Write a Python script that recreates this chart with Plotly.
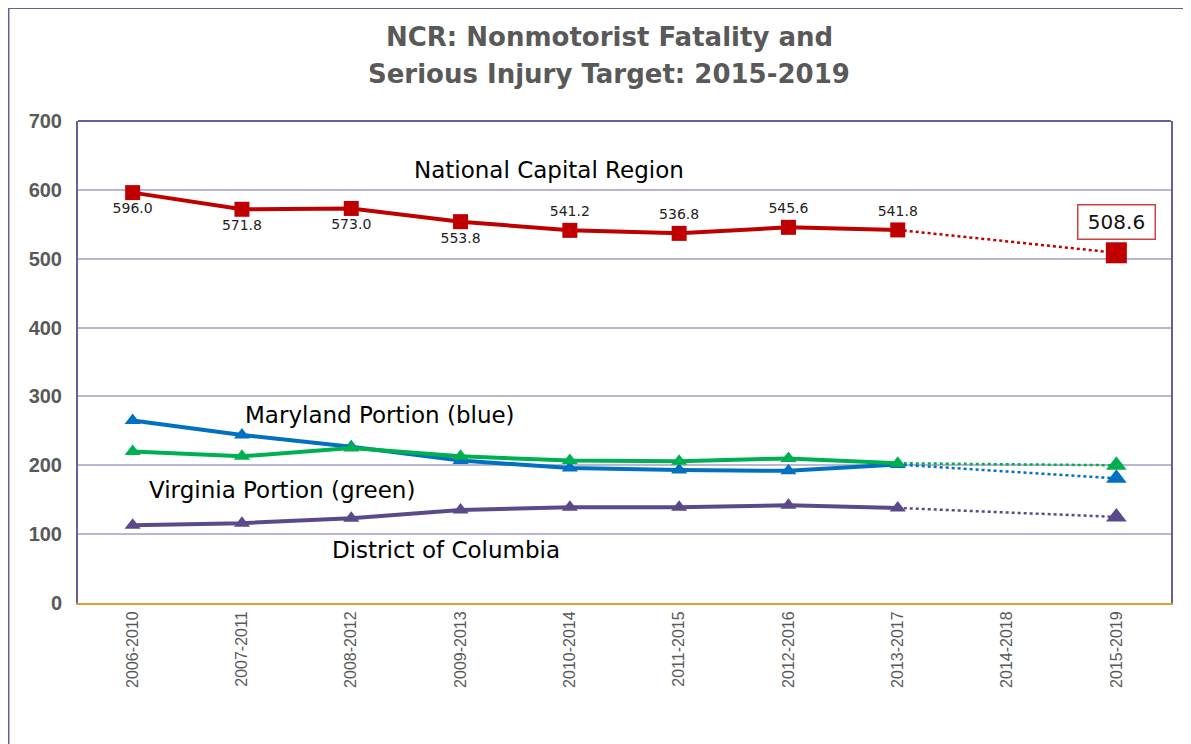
import plotly.graph_objects as go

periods = ["2006-2010", "2007-2011", "2008-2012", "2009-2013", "2010-2014",
           "2011-2015", "2012-2016", "2013-2017", "2014-2018", "2015-2019"]
ncr = [596.0, 571.8, 573.0, 553.8, 541.2, 536.8, 545.6, 541.8, None, None]
ncr_target = 508.6
maryland = [265, 244, 227, 207, 196, 193, 192, 201, None, None]
maryland_target = 181
virginia = [220, 213, 225, 213, 207, 206, 210, 203, None, None]
virginia_target = 200
dc = [113, 116, 123, 135, 139, 139, 142, 138, None, None]
dc_target = 125

ncr_text_pos = ["bottom center"] * 4 + ["top center"] * 4 + ["top center"] * 2

RED = "#C00000"
BLUE = "#0070C0"
GREEN = "#00B050"
PURPLE = "#5B4A8A"
FRAME = "#6E5C9A"
GRID = "#BDB3D4"
GOLD = "#D4A52A"
GREY = "#595959"

fig = go.Figure()

def proj(series, target, color, symbol, msize):
    fig.add_trace(go.Scatter(
        x=[periods[7], periods[9]], y=[series[7], target], mode="lines",
        line=dict(color=color, width=2.5, dash="dot"), hoverinfo="skip", showlegend=False))
    fig.add_trace(go.Scatter(
        x=[periods[9]], y=[target], mode="markers",
        marker=dict(symbol=symbol, size=msize, color=color), showlegend=False, cliponaxis=False))

def main(series, color, symbol, size, text=None):
    fig.add_trace(go.Scatter(
        x=periods, y=series, mode="lines+markers" + ("+text" if text else ""),
        line=dict(color=color, width=4),
        marker=dict(symbol=symbol, size=size, color=color),
        text=text, textposition=ncr_text_pos if text else None,
        textfont=dict(family="DejaVu Sans, Verdana", size=14, color="#222222"),
        showlegend=False, cliponaxis=False))

proj(dc, dc_target, PURPLE, "triangle-up", 18)
proj(virginia, virginia_target, GREEN, "triangle-up", 18)
proj(maryland, maryland_target, BLUE, "triangle-up", 18)
proj(ncr, ncr_target, RED, "square", 21)
main(dc, PURPLE, "triangle-up", 14)
main(maryland, BLUE, "triangle-up", 14)
main(virginia, GREEN, "triangle-up", 14)
main(ncr, RED, "square", 15, text=[f"{v:.1f}" if v is not None else "" for v in ncr])

label_font = dict(family="DejaVu Sans, Verdana", size=23, color="#000000")
title_font = dict(family="DejaVu Sans, Verdana", size=26, color=GREY)
annotations = [
    dict(x=3.81, y=629, text="National Capital Region", showarrow=False, font=label_font),
    dict(x=2.26, y=273, text="Maryland Portion (blue)", showarrow=False, font=label_font),
    dict(x=1.37, y=164, text="Virginia Portion (green)", showarrow=False, font=label_font),
    dict(x=2.87, y=77, text="District of Columbia", showarrow=False, font=label_font),
    dict(x=9, y=ncr_target, text=f"{ncr_target:.1f}", showarrow=False, yshift=31,
         width=70, height=27,
         font=dict(family="DejaVu Sans, Verdana", size=20, color="#111111"),
         bordercolor="#D04040", borderwidth=1.5, bgcolor="#FFFFFF", borderpad=3),
    dict(xref="paper", yref="paper", x=0.486, y=1.175, xanchor="center", yanchor="middle",
         text="<b>NCR: Nonmotorist Fatality and</b>", showarrow=False, font=title_font),
    dict(xref="paper", yref="paper", x=0.486, y=1.098, xanchor="center", yanchor="middle",
         text="<b>Serious Injury Target: 2015-2019</b>", showarrow=False, font=title_font),
]

shapes = [
    dict(type="rect", xref="paper", yref="paper", x0=-0.0645, x1=1.06, y0=-0.4, y1=1.2365,
         line=dict(color=FRAME, width=4), layer="below"),
    dict(type="line", xref="paper", yref="paper", x0=0, x1=1, y0=1, y1=1,
         line=dict(color=FRAME, width=2)),
]

# The page body has an 8px default margin; the figure is sized so the plot area
# lands where it is in the reference.
fig.update_layout(
    width=1183, height=736,
    margin=dict(l=70, r=20, t=113, b=141),
    paper_bgcolor="white", plot_bgcolor="white",
    annotations=annotations, shapes=shapes,
    xaxis=dict(type="category", categoryorder="array", categoryarray=periods,
               range=[-0.5, 9.5], showgrid=False, tickangle=-90,
               showline=True, linecolor=GOLD, linewidth=2,
               tickfont=dict(family="Liberation Sans, Arial", size=16, color=GREY),
               ticks=""),
    yaxis=dict(range=[0, 700], dtick=100, showgrid=True, gridcolor=GRID, gridwidth=1.5,
               showline=True, linecolor=FRAME, linewidth=2, mirror=True, zeroline=False,
               tickfont=dict(family="Liberation Sans Narrow, Liberation Sans, Arial", size=20,
                             color=GREY, weight="bold"),
               ticks="", ticklabelstandoff=10, tickformat="d"),
)

fig.write_html("out.html")
